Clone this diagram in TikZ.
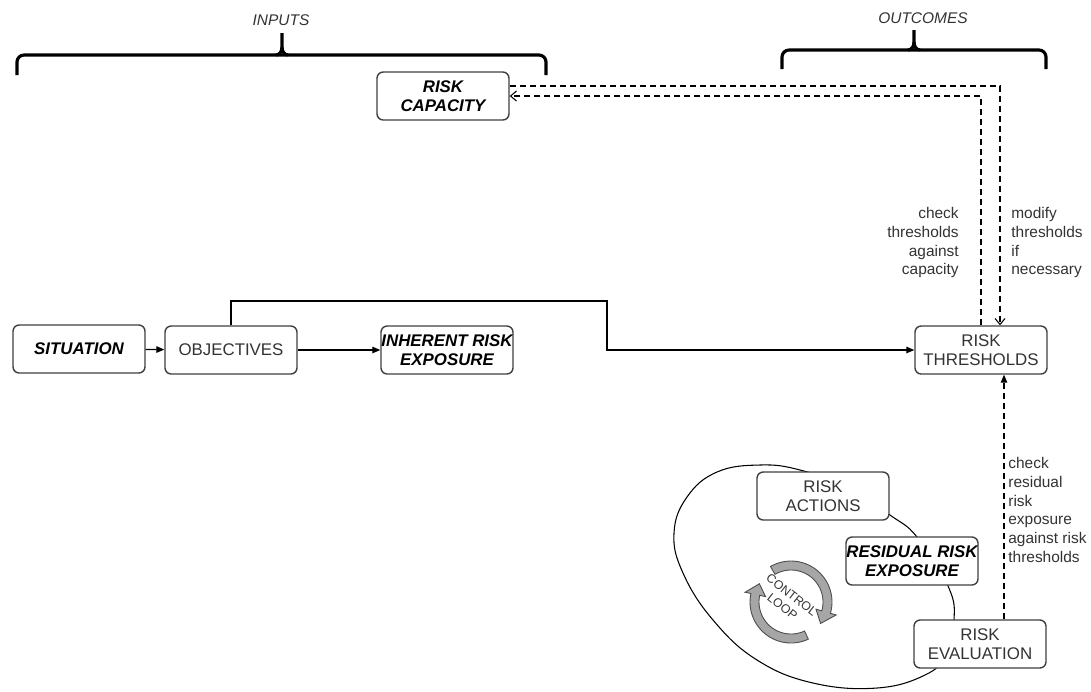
\documentclass[tikz,border=0pt]{standalone}
\usepackage{fontspec}
\setmainfont{Liberation Sans}
\usetikzlibrary{arrows.meta}

\tikzset{
  box/.style={draw=black!75, line width=0.8pt, rounded corners=3.5pt, fill=white,
    minimum width=2.64cm, minimum height=0.96cm, inner xsep=0pt, align=center,
    font=\fontsize{9.6}{10.5}\selectfont, text=black!80},
  keybox/.style={box, font=\fontsize{9.6}{10.5}\selectfont\bfseries\itshape, text=black},
  lbl/.style={font=\fontsize{8.8}{10.7}\selectfont, text=black!80, inner sep=0pt},
  head/.style={font=\fontsize{8.8}{10.7}\selectfont\itshape, text=black!80},
  flow/.style={line width=0.7pt, -{Triangle[length=1.6mm,width=1.3mm]}},
  dashflow/.style={line width=0.6pt, dash pattern=on 1.2mm off 0.8mm},
  brace/.style={line width=1.8pt, rounded corners=4pt},
  loopband/.style={fill=black!35, draw=black!70, line width=0.5pt}
}

\begin{document}
\begin{tikzpicture}[x=0.02cm, y=-0.02cm]
    \useasboundingbox (0,0) rectangle (1091,691);

    % braces on top
    \node[head] (inp) at (281,20) {INPUTS};
    \draw[brace] (17,75) |- (282,55) -| (546,75);
    \draw[line width=1.8pt] (276,55) to[out=0,in=-90] (282,47) -- (282,33);
    \draw[line width=1.8pt] (288,55) to[out=180,in=-90] (282,47);
    \node[head] (out) at (923,18) {OUTCOMES};
    \draw[brace] (782,69) |- (914,50) -| (1046,69);
    \draw[line width=1.8pt] (908,50) to[out=0,in=-90] (914,42) -- (914,30);
    \draw[line width=1.8pt] (920,50) to[out=180,in=-90] (914,42);

    % control loop outline
    \draw[line width=0.6pt] plot[smooth cycle, tension=0.7] coordinates {
      (760,465) (800,470) (850,488) (890,515) (917,537) (948,586) (954,620)
      (945,655) (925,675) (877,688) (813,683) (757,660) (713,620) (683,573)
      (674,533) (687,497) (717,472)};

    % circular arrows
    \filldraw[loopband] plot[domain=-120:16, samples=30] ({791+41*cos(\x)},{602+41*sin(\x)})
      -- ({791+47*cos(16)},{602+47*sin(16)})
      -- ({791+36.5*cos(36)},{602+36.5*sin(36)})
      -- ({791+26*cos(16)},{602+26*sin(16)})
      -- plot[domain=16:-120, samples=30] ({791+32*cos(\x)},{602+32*sin(\x)}) -- cycle;
    \filldraw[loopband] plot[domain=65:192, samples=30] ({791+41*cos(\x)},{602+41*sin(\x)})
      -- ({791+47*cos(192)},{602+47*sin(192)})
      -- ({791+36.5*cos(210)},{602+36.5*sin(210)})
      -- ({791+26*cos(192)},{602+26*sin(192)})
      -- plot[domain=192:65, samples=30] ({791+32*cos(\x)},{602+32*sin(\x)}) -- cycle;
    \node[font=\fontsize{7}{8.5}\selectfont, text=black!80, rotate=-38, align=center]
      (ctl) at (787,601) {CONTROL\\LOOP};

    % boxes
    \node[keybox] (sit) at (79,349) {SITUATION};
    \node[box] (obj) at (231,350) {OBJECTIVES};
    \node[keybox] (inh) at (447,350) {INHERENT RISK\\EXPOSURE};
    \node[keybox] (cap) at (443,96) {RISK\\CAPACITY};
    \node[box] (thr) at (981,350) {RISK\\THRESHOLDS};
    \node[box] (act) at (823,496) {RISK\\ACTIONS};
    \node[keybox] (res) at (912,561) {RESIDUAL RISK\\EXPOSURE};
    \node[box] (eva) at (980,644) {RISK\\EVALUATION};

    % arrows
    \draw[flow] (sit) -- (obj);
    \draw[flow] (obj) -- (inh);
    \coordinate (bend) at (607,301);
    \draw[flow] (obj.north) |- (bend) |- (thr.west);

    \coordinate (mod) at (1000,86);
    \draw[dashflow, -{Straight Barb[length=1.2mm,width=2mm]}] (cap.east |- mod) -| (thr.north -| mod);
    \draw[dashflow, -{Straight Barb[length=1.2mm,width=2mm]}] (thr.north) |- (cap.east);
    \coordinate (chk) at (1004,0);
    \draw[dashflow, -{Triangle[length=1.6mm,width=1.3mm]}] (eva.north -| chk) -- (thr.south -| chk);

    % labels
    \node[lbl, anchor=north east, align=right] (lcap) at (959,207) {check\\thresholds\\against\\capacity};
    \node[lbl, anchor=north west, align=left] (lmod) at (1011,207) {modify\\thresholds\\if\\necessary};
    \node[lbl, anchor=north west, align=left] (lres) at (1008,457) {check\\residual\\risk\\exposure\\against risk\\thresholds};
\end{tikzpicture}
\end{document}
